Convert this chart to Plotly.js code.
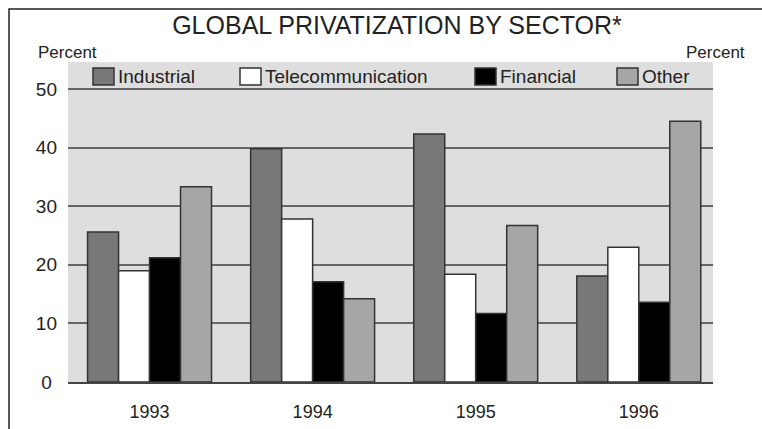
<!DOCTYPE html>
<html>
<head>
<meta charset="utf-8">
<script src="https://cdn.plot.ly/plotly-3.0.1.min.js"></script>
<style>html,body{margin:0;padding:0;background:#fff;}#chart{width:762px;height:429px;}</style>
</head>
<body>
<div id="chart"></div>
<script>
// ---- data ----
var years = ['1993', '1994', '1995', '1996'];
var seriesNames = ['Industrial', 'Telecommunication', 'Financial', 'Other'];
var industrial = [25.6, 39.8, 42.3, 18.1];
var telecommunication = [19.0, 27.8, 18.4, 23.0];
var financial = [21.2, 17.1, 11.7, 13.6];
var other = [33.3, 14.2, 26.7, 44.5];
var tickVals = [0, 10, 20, 30, 40, 50];
var tickLabels = ['0', '10', '20', '30', '40', '50'];
var titleText = 'GLOBAL PRIVATIZATION BY SECTOR*';
var axisLabel = 'Percent';

// ---- styling ----
var seriesValues = [industrial, telecommunication, financial, other];
var colors = ['#787878', '#ffffff', '#000000', '#a6a6a6'];
var FONT = '"Liberation Sans", Arial, Helvetica, sans-serif';
var TXT = '#222222';
var W = 762, H = 429;
var L = 68, R = 713, T = 62, B = 382;
function xp(px) { return (px - L) / (R - L); }
function yp(py) { return (B - py) / (B - T); }

var traces = seriesNames.map(function (n, i) {
  return {
    type: 'bar', name: n, x: years, y: seriesValues[i],
    marker: { color: colors[i], line: { color: '#333333', width: 1.5 } },
    showlegend: false, hoverinfo: 'skip'
  };
});

// tick labels visually centred like the original
var leftText = tickLabels.map(function (t) { return t.length < 2 ? t + '\u2008' : t; });
var rightText = tickLabels.map(function (t) { return t.length < 2 ? '\u2008' + t : t; });

// manual legend (inside the grey panel, above the 50 line)
var legendX = [93, 240, 475, 617];
var shapes = [];
var annotations = [];
seriesNames.forEach(function (n, i) {
  shapes.push({
    type: 'rect', xref: 'paper', yref: 'paper',
    x0: xp(legendX[i]), x1: xp(legendX[i] + 21), y0: yp(85), y1: yp(68),
    fillcolor: colors[i], line: { color: '#333333', width: 1.5 }
  });
  annotations.push({
    xref: 'paper', yref: 'paper', x: xp(legendX[i] + 23), y: yp(76.5),
    xanchor: 'left', yanchor: 'middle', showarrow: false, text: n,
    font: { family: FONT, size: 19, color: TXT }
  });
});
// outer frame (top and left edges visible)
shapes.push({
  type: 'rect', xref: 'paper', yref: 'paper',
  x0: xp(9), x1: xp(800), y0: yp(460), y1: yp(9),
  line: { color: '#222222', width: 1.5 }, fillcolor: 'rgba(0,0,0,0)', layer: 'above'
});
annotations.push({
  xref: 'paper', yref: 'paper', x: xp(67), y: yp(52), xanchor: 'center', yanchor: 'middle',
  showarrow: false, text: axisLabel, font: { family: FONT, size: 17, color: TXT }
});
annotations.push({
  xref: 'paper', yref: 'paper', x: xp(715), y: yp(52), xanchor: 'center', yanchor: 'middle',
  showarrow: false, text: axisLabel, font: { family: FONT, size: 17, color: TXT }
});

var layout = {
  width: W, height: H,
  margin: { l: L, r: W - R, t: T, b: H - B, pad: 0 },
  paper_bgcolor: '#ffffff', plot_bgcolor: '#dedede',
  font: { family: FONT, color: TXT, size: 18 },
  title: {
    text: titleText, font: { family: FONT, size: 25, color: TXT },
    xref: 'container', yref: 'container', x: 397 / W, xanchor: 'center',
    y: 1 - 25 / H, yanchor: 'middle'
  },
  barmode: 'group', bargap: 0.24, bargroupgap: 0,
  showlegend: false,
  xaxis: {
    type: 'category', range: [-0.5, 3.455], showgrid: false, zeroline: false,
    showline: true, linecolor: '#444444', linewidth: 2, ticks: '',
    ticklabelstandoff: 12, tickfont: { family: FONT, size: 18, color: TXT }, fixedrange: true
  },
  yaxis: {
    range: [0, 54.6], tickvals: tickVals, ticktext: leftText, ticks: '',
    showgrid: true, gridcolor: '#666666', gridwidth: 2, zeroline: false, showline: false,
    ticklabelstandoff: 10, tickfont: { family: FONT, size: 19, color: TXT }, fixedrange: true
  },
  yaxis2: {
    range: [0, 54.6], tickvals: tickVals, ticktext: rightText, ticks: '',
    overlaying: 'y', side: 'right', anchor: 'x', showgrid: false, zeroline: false, showline: false,
    ticklabelstandoff: 15, tickfont: { family: FONT, size: 19, color: TXT }, fixedrange: true
  },
  shapes: shapes,
  annotations: annotations
};

Plotly.newPlot('chart', traces, layout, { displayModeBar: false, staticPlot: true });
</script>
</body>
</html>
